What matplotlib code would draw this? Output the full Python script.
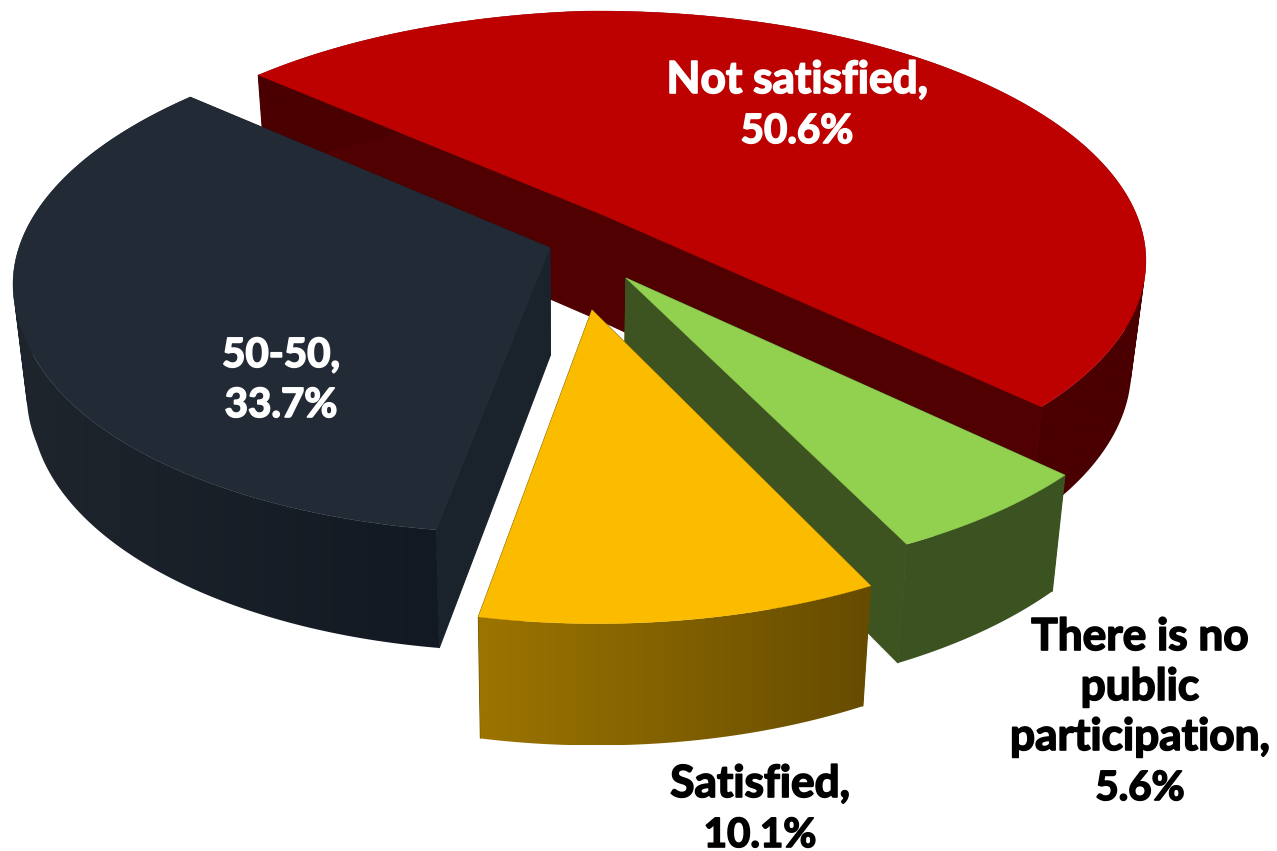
import numpy as np
import matplotlib
matplotlib.use("Agg")
import matplotlib.pyplot as plt
import matplotlib.patheffects as pe
from matplotlib.colors import to_rgb
from matplotlib.patches import PathPatch
from matplotlib.path import Path

labels = ["Not satisfied", "There is no\npublic\nparticipation", "Satisfied", "50-50"]
values = [50.6, 5.6, 10.1, 33.7]

top_colors = ["#bd0000", "#92d050", "#fbbc00", "#222a35"]
side_left = ["#4a0000", "#3b5320", "#9c7400", "#1e252d"]
side_right = ["#4a0000", "#3b5320", "#664c00", "#131922"]
wall_colors = ["#500000", "#3d5421", "#664c00", "#1a222b"]
text_colors = ["white", "black", "black", "white"]
# x centre and baseline of first line
text_pos = [(797, 93), (1140, 650), (760, 797), (281, 367)]
line_step = 50

# how far each slice is pulled out, in pie radii
shift_x = [0.0, 0.0415, -0.0194, -0.098]
shift_y = [0.0, -0.2525, -0.371, -0.135]
# the original's perspective is odd, radius along each slice, start to end
radius = [(1.0, 1.04, 1.03, 1.015, 1.0), (0.938, 0.93), (0.916, 0.909), (0.927, 0.958, 1.035)]
# small angle fix per slice edge, degrees
twist = [(0, 0), (-0.5, -0.5), (-0.7, -0.7), (-1.2, -0.4)]

start = 312.0
cx, cy = 603.0, 215.0
A, B, k = 526.0, 237.0, 0.2
x0 = 560.0


def project(x, y):
    w = 1 + k * y
    return cx + A * x / w, cy - B * y / w


def lower(px, py):
    # bottom edge of the pie, straight under the top face
    d = 100 + 0.038 * (py - 50)
    return px + (x0 - px) * 0.025, py + d


def wall(ax, x1, y1, x2, y2, color, zorder):
    t = np.linspace(0, 1, 2)
    px, py = project(x1 + (x2 - x1) * t, y1 + (y2 - y1) * t)
    qx, qy = lower(px, py)
    ax.fill(np.r_[px, qx[::-1]], np.r_[py, qy[::-1]], color=color, lw=0.8, zorder=zorder)


def side_path(px, py, qx, qy):
    # union of small quads, all turned the same way so the fold at the
    # silhouette does not cancel out
    parts = []
    for j in range(len(px) - 1):
        q = np.array([[px[j], py[j]], [px[j + 1], py[j + 1]], [qx[j + 1], qy[j + 1]], [qx[j], qy[j]], [px[j], py[j]]])
        area = np.sum(q[:-1, 0] * q[1:, 1] - q[1:, 0] * q[:-1, 1])
        if area < 0:
            q = q[::-1]
        parts.append(Path(q, closed=True))
    return Path.make_compound_path(*parts)


fig = plt.figure(figsize=(12.77, 8.51), dpi=100)
ax = fig.add_axes([0, 0, 1, 1])

fracs = np.array(values) / sum(values) * 360
ends = start + np.cumsum(fracs)
starts = ends - fracs
draw_z = [1, 2, 4, 3]

for i in range(len(values)):
    deg = np.linspace(starts[i] + twist[i][0], ends[i] + twist[i][1], 160)
    a = np.radians(deg)
    r = np.interp(deg, np.linspace(deg[0], deg[-1], len(radius[i])), radius[i])
    xs = shift_x[i] + r * np.sin(a)
    ys = shift_y[i] + r * np.cos(a)
    z = draw_z[i] * 10
    # cut faces
    wall(ax, shift_x[i], shift_y[i], xs[0], ys[0], wall_colors[i], z)
    wall(ax, shift_x[i], shift_y[i], xs[-1], ys[-1], wall_colors[i], z)
    # curved side, gradient clipped to the band
    px, py = project(xs, ys)
    qx, qy = lower(px, py)
    band = PathPatch(side_path(px, py, qx, qy), fc="none", ec="none", transform=ax.transData)
    ax.add_patch(band)
    c1, c2 = np.array(to_rgb(side_left[i])), np.array(to_rgb(side_right[i]))
    grad = np.linspace(0, 1, 256)[None, :, None]
    img = c1 + (c2 - c1) * grad
    left, right = min(px.min(), qx.min()), max(px.max(), qx.max())
    im = ax.imshow(img, extent=[left, right, max(py.max(), qy.max()), min(py.min(), qy.min())],
                   aspect="auto", zorder=z + 1, interpolation="bilinear")
    im.set_clip_path(band)
    # top face
    ox, oy = project(shift_x[i], shift_y[i])
    ax.fill(np.r_[ox, px], np.r_[oy, py], color=top_colors[i], lw=0.3, zorder=z + 2)
    # lines one by one, the digits run narrower than the words
    lines = (labels[i] + ",").split("\n") + [f"{values[i]}%"]
    for j, line in enumerate(lines):
        size = 29 if j == len(lines) - 1 else 31.8
        if i == 3 and j == 0:
            size = 29
        t = ax.text(text_pos[i][0], text_pos[i][1] + j * line_step, line, color=text_colors[i],
                    family=["Lato", "DejaVu Sans"], weight="bold", fontsize=size, ha="center",
                    va="baseline", zorder=100)
        t.set_path_effects([pe.withStroke(linewidth=1.2, foreground=text_colors[i])])

ax.set_xlim(0, 1277)
ax.set_ylim(851, 0)
ax.axis("off")

fig.savefig("out.png", dpi=100, facecolor="white")
